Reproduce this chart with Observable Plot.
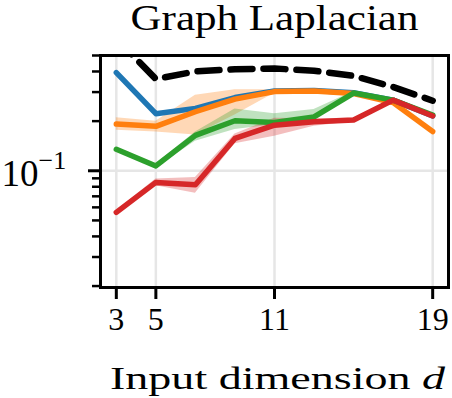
<!DOCTYPE html>
<html>
<head>
<meta charset="utf-8">
<script src="https://cdn.jsdelivr.net/npm/d3@7"></script>
<script src="https://cdn.jsdelivr.net/npm/@observablehq/plot@0.6"></script>
<style>
  html, body { margin: 0; padding: 0; background: #fff; }
  svg { font-family: "Liberation Serif", "Times New Roman", serif; }
</style>
</head>
<body>
<div id="chart"></div>
<script>
// ---- data ----
const dims = [3, 5, 7, 9, 11, 13, 15, 17, 19];
const xTickValues = [3, 5, 11, 19];
const yMajorTicks = [0.1];
const yMinorTicks = [0.02, 0.03, 0.04, 0.05, 0.06, 0.07, 0.08, 0.09, 0.2, 0.3, 0.4, 0.5];
const titleText = "Graph Laplacian";
const xLabelText = "Input dimension d";

const baselineVals = [0.634, 0.36, 0.40, 0.413, 0.417, 0.404, 0.376, 0.322, 0.266];

const blueVals = [0.394, 0.222, 0.239, 0.278, 0.305, 0.307, 0.297, 0.268, 0.215];
const blueLo   = [0.388, 0.218, 0.235, 0.274, 0.301, 0.303, 0.293, 0.264, 0.211];
const blueHi   = [0.400, 0.226, 0.243, 0.282, 0.309, 0.311, 0.301, 0.272, 0.219];

const orangeVals = [0.192, 0.186, 0.228, 0.272, 0.302, 0.305, 0.294, 0.259, 0.173];
const orangeLo   = [0.176, 0.172, 0.165, 0.218, 0.295, 0.300, 0.289, 0.254, 0.168];
const orangeHi   = [0.210, 0.200, 0.287, 0.310, 0.310, 0.310, 0.299, 0.264, 0.178];

const greenVals = [0.135, 0.107, 0.164, 0.201, 0.196, 0.212, 0.296, 0.268, 0.218];
const greenLo   = [0.131, 0.104, 0.151, 0.178, 0.190, 0.205, 0.290, 0.263, 0.213];
const greenHi   = [0.139, 0.110, 0.172, 0.237, 0.222, 0.235, 0.302, 0.273, 0.223];

const redVals = [0.0559, 0.085, 0.0823, 0.157, 0.189, 0.198, 0.203, 0.268, 0.215];
const redLo   = [0.0545, 0.081, 0.073, 0.146, 0.162, 0.186, 0.198, 0.262, 0.210];
const redHi   = [0.0573, 0.089, 0.091, 0.167, 0.208, 0.207, 0.208, 0.274, 0.220];

const seriesDefs = [
  {name: "blue",   color: "#1f77b4", vals: blueVals,   lo: blueLo,   hi: blueHi},
  {name: "orange", color: "#ff7f0e", vals: orangeVals, lo: orangeLo, hi: orangeHi},
  {name: "green",  color: "#2ca02c", vals: greenVals,  lo: greenLo,  hi: greenHi},
  {name: "red",    color: "#d62728", vals: redVals,    lo: redLo,    hi: redHi}
];

const rows = s => dims.map((d, i) => ({d, v: s.vals[i], lo: s.lo[i], hi: s.hi[i]}));
const baselineRows = dims.map((d, i) => ({d, v: baselineVals[i]}));

const marks = [
  Plot.ruleX(xTickValues, {stroke: "#e6e6e6", strokeWidth: 2.5}),
  Plot.ruleY(yMajorTicks, {stroke: "#e6e6e6", strokeWidth: 2.5})
];
for (const s of seriesDefs) {
  marks.push(Plot.areaY(rows(s), {x: "d", y1: "lo", y2: "hi", fill: s.color, fillOpacity: 0.3, clip: true}));
}
for (const s of seriesDefs) {
  marks.push(Plot.lineY(rows(s), {x: "d", y: "v", stroke: s.color, strokeWidth: 5.5, clip: true}));
}
marks.push(Plot.lineY(baselineRows, {x: "d", y: "v", stroke: "black", strokeWidth: 6.5, strokeDasharray: "22,11", clip: true}));
marks.push(Plot.frame({stroke: "black", strokeWidth: 3}));
marks.push(Plot.axisX(xTickValues, {tickSize: 12, strokeWidth: 3, tickPadding: 8, fontSize: 32, fill: "black", tickFormat: d => String(d), label: null}));
marks.push(Plot.axisY(yMinorTicks, {tickSize: 8, strokeWidth: 2.5, tickFormat: () => "", label: null}));
marks.push(Plot.axisY(yMajorTicks, {tickSize: 12, strokeWidth: 3, tickFormat: () => "", label: null}));
marks.push(Plot.text(yMajorTicks, {y: d => d, frameAnchor: "left", dx: -62, text: () => "10", textAnchor: "end", fontSize: 37, lineAnchor: "middle", dy: 3, fill: "black"}));
marks.push(Plot.text(yMajorTicks, {y: d => d, frameAnchor: "left", dx: -62, text: () => "\u22121", textAnchor: "start", fontSize: 26, lineAnchor: "middle", dy: -10, fill: "black"}));
marks.push(Plot.text([titleText], {frameAnchor: "top", text: d => d, dy: -26, lineAnchor: "bottom", fontSize: 35, fill: "black"}));
marks.push(Plot.text([xLabelText], {frameAnchor: "bottom", text: d => d, dy: 101, dx: 3, lineAnchor: "bottom", fontSize: 32, fill: "black"}));

const chart = Plot.plot({
  width: 452,
  height: 398,
  marginTop: 55,
  marginBottom: 111,
  marginLeft: 100,
  marginRight: 4,
  style: {background: "#fff", color: "black", overflow: "visible"},
  x: {domain: [2.2, 19.8]},
  y: {type: "log", domain: [0.0196, 0.5]},
  marks
});

// typographic touch-ups: italic math variable, widths like the reference
const svg = d3.select(chart);
svg.selectAll("text").each(function() {
  const t = d3.select(this);
  const txt = this.textContent;
  if (txt === xLabelText) {
    t.text(null);
    t.append("tspan").text("Input dimension ");
    t.append("tspan").attr("font-style", "italic").text("d");
    t.attr("textLength", 335).attr("lengthAdjust", "spacingAndGlyphs");
  } else if (txt === titleText) {
    t.attr("textLength", 288).attr("lengthAdjust", "spacingAndGlyphs");
  }
});
document.getElementById("chart").appendChild(chart);
</script>
</body>
</html>
